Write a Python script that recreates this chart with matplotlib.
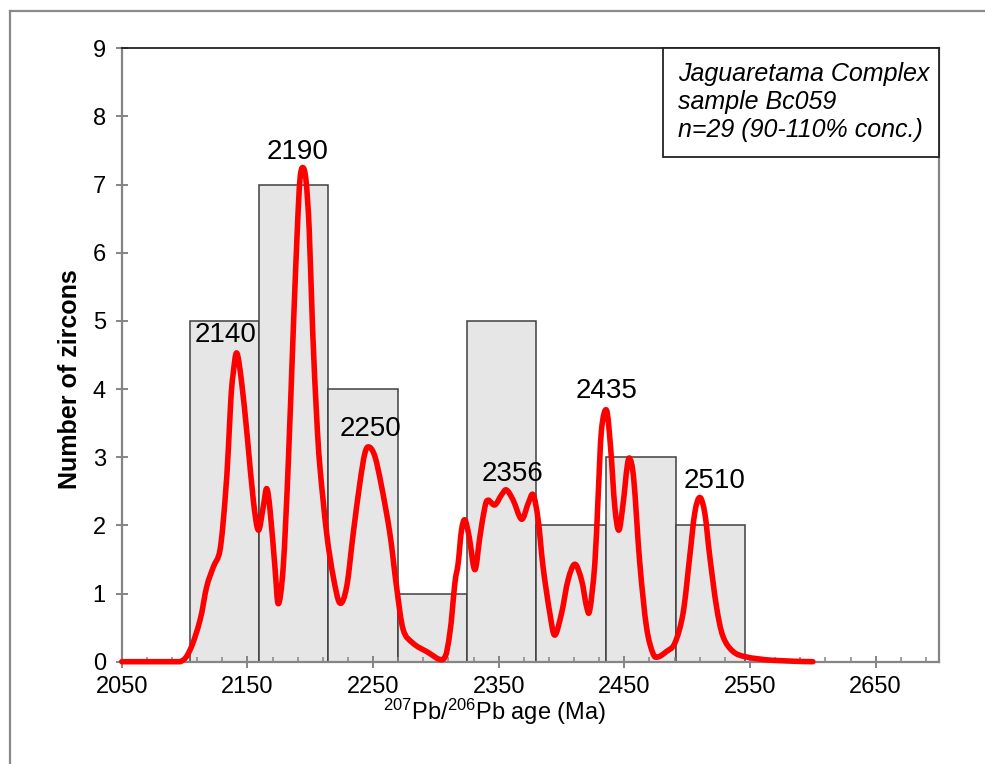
import matplotlib
matplotlib.use("Agg")
import matplotlib.pyplot as plt
from matplotlib.lines import Line2D
from matplotlib.patches import Rectangle, PathPatch
from matplotlib.path import Path
import numpy as np

plt.rcParams['font.family'] = ['Liberation Sans', 'DejaVu Sans']
plt.rcParams['mathtext.fontset'] = 'custom'
plt.rcParams['mathtext.rm'] = 'Liberation Sans'
plt.rcParams['mathtext.it'] = 'Liberation Sans:italic'
plt.rcParams['mathtext.bf'] = 'Liberation Sans:bold'

# histogram of 207Pb/206Pb ages
bin_edges = [2104, 2159, 2214, 2270, 2325, 2380, 2435, 2491, 2546]
counts = [5, 7, 4, 1, 5, 2, 3, 2]

# probability density curve
pdp_age = [2050, 2080.5, 2096.4, 2104.3, 2112.3, 2117.6, 2122.9, 2128.2, 2132.2, 2134.8,
           2136.8, 2138.5, 2141.5, 2145.4, 2149.9, 2154.7, 2158.7, 2162.6, 2165.3, 2168.0,
           2171.9, 2174.6, 2178.5, 2182.5, 2186.5, 2189.7, 2191.8, 2194.0, 2196.6, 2199.2,
           2201.9, 2205.1, 2207.7, 2213.1, 2218.3, 2223.6, 2229.0, 2234.2, 2239.5, 2243.5,
           2246.9, 2251.5, 2256.8, 2263.4, 2268.7, 2274.0, 2281.9, 2292.6, 2305.8, 2311.1,
           2315.1, 2317.7, 2320.4, 2323.1, 2326.5, 2331.0, 2335.0, 2339.0, 2341.6, 2346.9,
           2352.3, 2356.2, 2361.5, 2368.2, 2373.4, 2377.4, 2381.4, 2385.3, 2390.7, 2394.6,
           2400.0, 2405.2, 2410.6, 2415.9, 2419.9, 2422.5, 2426.5, 2429.1, 2431.8, 2435.8,
           2439.0, 2442.4, 2445.6, 2449.0, 2452.2, 2454.3, 2457.5, 2462.3, 2467.6, 2472.8,
           2476.8, 2483.5, 2490.1, 2496.7, 2502.0, 2506.0, 2510.0, 2514.0, 2518.0, 2523.3,
           2528.5, 2536.5, 2547.1, 2568.3, 2600]
pdp_val = [0.0, 0.0, 0.0, 0.17, 0.61, 1.10, 1.39, 1.64, 2.37, 3.11,
           3.84, 4.20, 4.53, 4.10, 3.30, 2.37, 1.93, 2.27, 2.54, 2.23,
           1.39, 0.85, 1.39, 2.90, 4.87, 6.33, 7.07, 7.25, 7.07, 6.33,
           4.87, 3.60, 2.86, 1.88, 1.25, 0.86, 1.10, 1.88, 2.62, 3.06,
           3.15, 3.01, 2.57, 1.88, 1.10, 0.47, 0.27, 0.15, 0.035, 0.42,
           1.15, 1.44, 1.93, 2.08, 1.83, 1.35, 1.83, 2.27, 2.37, 2.30,
           2.45, 2.52, 2.37, 2.09, 2.32, 2.45, 2.08, 1.39, 0.71, 0.39,
           0.71, 1.20, 1.43, 1.20, 0.81, 0.76, 1.44, 2.42, 3.40, 3.69,
           3.15, 2.27, 1.93, 2.32, 2.86, 2.98, 2.67, 1.44, 0.51, 0.12,
           0.07, 0.15, 0.27, 0.71, 1.54, 2.18, 2.41, 2.18, 1.54, 0.81,
           0.37, 0.15, 0.07, 0.02, 0.0]

peak_labels = ['2140', '2190', '2250', '2356', '2435', '2510']
peak_x = [2132.4, 2189.7, 2247.9, 2360.9, 2435.7, 2521.7]
peak_y = [4.80, 7.48, 3.42, 2.75, 3.97, 2.65]


def smooth_path(xs, ys):
    # spreadsheet-style smoothed line: cubic bezier through the points
    p = np.column_stack([xs, ys]).astype(float)
    p = np.vstack([p[0], p, p[-1]])
    verts = [p[1]]
    codes = [Path.MOVETO]
    for i in range(1, len(p) - 2):
        c1 = p[i] + (p[i + 1] - p[i - 1]) / 6
        c2 = p[i + 1] - (p[i + 2] - p[i]) / 6
        c1[1] = max(c1[1], 0)
        c2[1] = max(c2[1], 0)
        verts += [c1, c2, p[i + 1]]
        codes += [Path.CURVE4] * 3
    return Path(verts, codes)


fig = plt.figure(figsize=(9.85, 7.64), dpi=100)
ax = fig.add_axes([0.1236, 0.1339, 0.8292, 0.8029])

widths = np.diff(bin_edges)
ax.bar(bin_edges[:-1], counts, width=widths, align='edge',
       facecolor='#e6e6e6', edgecolor='#404040', linewidth=1.1, zorder=1)
ax.add_patch(PathPatch(smooth_path(pdp_age, pdp_val), facecolor='none',
                       edgecolor='#ff0000', lw=4, joinstyle='round', capstyle='round',
                       zorder=3, clip_on=False))

for lab, x, y in zip(peak_labels, peak_x, peak_y):
    ax.text(x, y, lab, fontsize=20, ha='center', va='center', zorder=4)

ax.set_xlim(2050, 2700)
ax.set_ylim(0, 9)
ax.set_xticks(np.arange(2050, 2700, 100))
ax.set_xticks(np.arange(2050, 2701, 20), minor=True)
ax.set_yticks(np.arange(0, 10, 1))

gray = '#858585'
for side in ['left', 'bottom', 'right']:
    ax.spines[side].set_color(gray)
    ax.spines[side].set_linewidth(1.6)
ax.spines['top'].set_color('#222222')
ax.spines['top'].set_linewidth(1.3)

ax.tick_params(axis='x', which='major', direction='inout', length=8, width=1.4,
               color=gray, labelsize=17, pad=6)
ax.tick_params(axis='x', which='minor', direction='in', length=3.5, width=1.1, color=gray)
ax.tick_params(axis='y', which='major', direction='inout', length=9, width=1.4,
               color=gray, labelsize=17, pad=7)
ax.tick_params(top=False, right=False)

ax.set_xlabel(r'$^{207}$Pb/$^{206}$Pb age (Ma)', fontsize=17)
ax.xaxis.set_label_coords(0.456, -0.058)
ax.set_ylabel('Number of zircons', fontsize=18, fontweight='bold')
ax.yaxis.set_label_coords(-0.0486, 0.461)

# sample info box
ax.add_patch(Rectangle((0.6627, 0.8228), 0.3373, 0.1772, transform=ax.transAxes,
                       facecolor='white', edgecolor='#222222', lw=1.3, zorder=5,
                       clip_on=False))
ax.text(0.681, 0.9125, 'Jaguaretama Complex\nsample Bc059\nn=29 (90-110% conc.)',
        transform=ax.transAxes, fontsize=18, style='italic', ha='left', va='center',
        linespacing=1.2, zorder=6)

# outer frame
fig.add_artist(Line2D([0.0102, 0.0102], [0, 0.9856], color='#8a8a8a', lw=1.6))
fig.add_artist(Line2D([0.0102, 1.0], [0.9856, 0.9856], color='#8a8a8a', lw=1.6))

fig.savefig('out.png', dpi=100)
